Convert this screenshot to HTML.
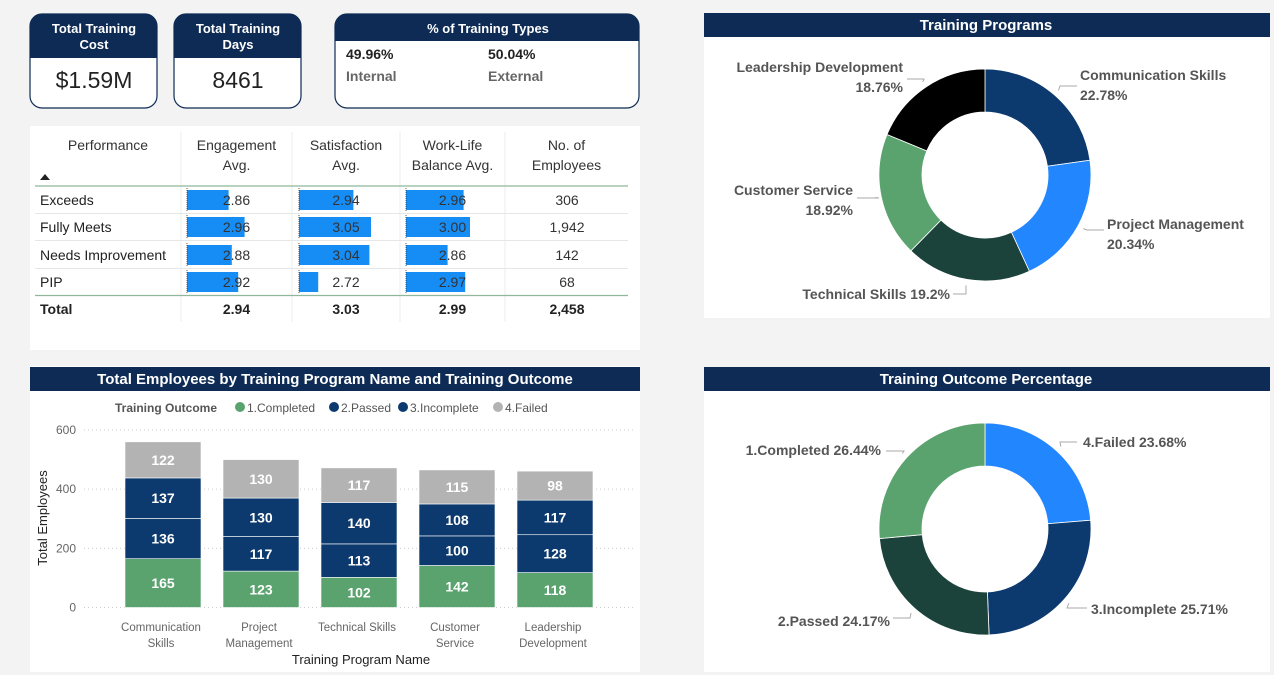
<!DOCTYPE html>
<html><head><meta charset="utf-8">
<style>
html,body{margin:0;padding:0;background:#f3f3f3;}
svg{display:block;font-family:"Liberation Sans",sans-serif;}
</style></head>
<body>
<svg id="dash" width="1274" height="675" viewBox="0 0 1274 675" xmlns="http://www.w3.org/2000/svg">
<rect x="0" y="0" width="1274" height="675" fill="#f3f3f3"/>

<!-- KPI cards -->
<g>
<rect x="30" y="14" width="127" height="94" rx="12" fill="#fff" stroke="#0d2b55" stroke-width="1.2"/>
<path d="M30,58 V26 A12,12 0 0 1 42,14 H145 A12,12 0 0 1 157,26 V58 Z" fill="#0d2b55"/>
<text x="94" y="33" text-anchor="middle" fill="#fff" font-size="13" font-weight="bold">Total Training</text>
<text x="94" y="49" text-anchor="middle" fill="#fff" font-size="13" font-weight="bold">Cost</text>
<text x="94" y="88" text-anchor="middle" fill="#222" font-size="23">$1.59M</text>
</g>
<g>
<rect x="174" y="14" width="127" height="94" rx="12" fill="#fff" stroke="#0d2b55" stroke-width="1.2"/>
<path d="M174,58 V26 A12,12 0 0 1 186,14 H289 A12,12 0 0 1 301,26 V58 Z" fill="#0d2b55"/>
<text x="238" y="33" text-anchor="middle" fill="#fff" font-size="13" font-weight="bold">Total Training</text>
<text x="238" y="49" text-anchor="middle" fill="#fff" font-size="13" font-weight="bold">Days</text>
<text x="238" y="88" text-anchor="middle" fill="#222" font-size="23">8461</text>
</g>
<g>
<rect x="335" y="14" width="304" height="94" rx="12" fill="#fff" stroke="#0d2b55" stroke-width="1.2"/>
<path d="M335,41 V26 A12,12 0 0 1 347,14 H627 A12,12 0 0 1 639,26 V41 Z" fill="#0d2b55"/>
<text x="488" y="33" text-anchor="middle" fill="#fff" font-size="13" font-weight="bold">% of Training Types</text>
<text x="346" y="59" fill="#222" font-size="14" font-weight="bold">49.96%</text>
<text x="346" y="81" fill="#666" font-size="14" font-weight="bold">Internal</text>
<text x="488" y="59" fill="#222" font-size="14" font-weight="bold">50.04%</text>
<text x="488" y="81" fill="#666" font-size="14" font-weight="bold">External</text>
</g>

<!-- Table -->
<g id="table">
<rect x="30" y="126" width="610" height="224" fill="#fff"/>
</g>

<!-- Bar chart panel -->
<g>
<rect x="30" y="366" width="610" height="306" fill="#fff"/>
<rect x="30" y="367" width="610" height="24" fill="#0d2b55"/>
<text x="335" y="384" text-anchor="middle" fill="#fff" font-size="15" font-weight="bold">Total Employees by Training Program Name and Training Outcome</text>
<g id="bars"></g>
</g>

<!-- Donut panels -->
<g>
<rect x="704" y="13" width="566" height="305" fill="#fff"/>
<rect x="704" y="13" width="566" height="24" fill="#0d2b55"/>
<text x="986" y="30" text-anchor="middle" fill="#fff" font-size="15" font-weight="bold">Training Programs</text>
<g id="donut1"></g>
</g>
<g>
<rect x="704" y="367" width="566" height="305" fill="#fff"/>
<rect x="704" y="367" width="566" height="24" fill="#0d2b55"/>
<text x="986" y="384" text-anchor="middle" fill="#fff" font-size="15" font-weight="bold">Training Outcome Percentage</text>
<g id="donut2"></g>
</g>
</svg>

<script>
// ---- table data ----
const perfRows = ["Exceeds","Fully Meets","Needs Improvement","PIP"];
const engagementAvg = [2.86,2.96,2.88,2.92];
const satisfactionAvg = [2.94,3.05,3.04,2.72];
const wlbAvg = [2.96,3.00,2.86,2.97];
const employeeCounts = ["306","1,942","142","68"];
const totalsRow = ["2.94","3.03","2.99","2,458"];

// ---- bar chart data ----
const programs = [["Communication","Skills"],["Project","Management"],["Technical Skills"],["Customer","Service"],["Leadership","Development"]];
const completed = [165,123,102,142,118];
const passed = [136,117,113,100,128];
const incomplete = [137,130,140,108,117];
const failed = [122,130,117,115,98];
const yTicks = [0,200,400,600];

// ---- donut data ----
const progNames = ["Communication Skills","Project Management","Technical Skills","Customer Service","Leadership Development"];
const progPct = [22.78,20.34,19.2,18.92,18.76];
const outcomeNames = ["4.Failed","3.Incomplete","2.Passed","1.Completed"];
const outcomePct = [23.68,25.71,24.17,26.44];

const NS="http://www.w3.org/2000/svg";
function mk(tag,attrs,parent,txt){const e=document.createElementNS(NS,tag);for(const k in attrs)e.setAttribute(k,attrs[k]);if(txt!==undefined)e.textContent=txt;parent.appendChild(e);return e;}

// ---- table ----
const tbl=document.getElementById('table');
const colX=[35,181,292,400,505,628];
const hdr=[["Performance"],["Engagement","Avg."],["Satisfaction","Avg."],["Work-Life","Balance Avg."],["No. of","Employees"]];
hdr.forEach((h,i)=>{
  const cx=(colX[i]+colX[i+1])/2+(i==0?0:0);
  h.forEach((t,j)=>{
    const e=mk('text',{x:i==0?108:cx,y:150+j*20,'text-anchor':'middle','font-size':14,fill:'#333'},tbl,t);
    
    
  });
});
for(let i=1;i<5;i++){const l=mk('line',{x1:colX[i],y1:132,x2:colX[i],y2:322,stroke:'#eee'},tbl);}
const arrow=mk('path',{d:'M40,180 L45,174 L50,180 Z',fill:'#222'},tbl);


mk('line',{x1:35,y1:186,x2:628,y2:186,stroke:'#8fb89a','stroke-width':1.2},tbl);
const rowY=[200,227,255,282];
const cols=[engagementAvg,satisfactionAvg,wlbAvg];
const barStart=[187,299,406];
function barW(v){return Math.max(8,(v-2.6)/0.45*72);}
perfRows.forEach((r,i)=>{
  const y=rowY[i];
  if(i<3) mk('line',{x1:35,y1:y+13.5,x2:628,y2:y+13.5,stroke:'#e6e6e6'},tbl);
  const t=mk('text',{x:40,y:y+5,'font-size':14,fill:'#222'},tbl,r);
  
  
  cols.forEach((c,j)=>{
    const b=mk('rect',{x:barStart[j],y:y-10,width:barW(c[i]),height:20,fill:'#168cf5'},tbl);
    
    
    mk('line',{x1:barStart[j],y1:y-12,x2:barStart[j],y2:y+12,stroke:'#333','stroke-dasharray':'1,1','stroke-width':0.8},tbl);
    mk('text',{x:(colX[j+1]+colX[j+2])/2,y:y+5,'text-anchor':'middle','font-size':14,fill:'#333'},tbl,c[i].toFixed(2));
  });
  mk('text',{x:567,y:y+5,'text-anchor':'middle','font-size':14,fill:'#333'},tbl,employeeCounts[i]);
});
mk('line',{x1:35,y1:295.5,x2:628,y2:295.5,stroke:'#8fb89a','stroke-width':1.2},tbl);
mk('text',{x:40,y:314,'font-size':14,'font-weight':'bold',fill:'#222'},tbl,"Total");
totalsRow.forEach((v,i)=>{mk('text',{x:i<3?(colX[i+1]+colX[i+2])/2:567,y:314,'text-anchor':'middle','font-size':14,'font-weight':'bold',fill:'#222'},tbl,v);});

// ---- bar chart ----
const bg=document.getElementById('bars');
const y0=607.5, yPer=177.5/600;
function yS(v){return y0-v*yPer;}
const band=98, xStart=125, bw=76;
function xS(i){return xStart+i*band;}
yTicks.forEach(t=>{
  mk('line',{x1:84,y1:yS(t),x2:636,y2:yS(t),stroke:'#ccc','stroke-dasharray':'1,3'},bg);
  mk('text',{x:76,y:yS(t)+4,'text-anchor':'end','font-size':12,fill:'#666'},bg,t);
});
const yt=mk('text',{x:47,y:518,'text-anchor':'middle','font-size':13,fill:'#222',transform:'rotate(-90 47 518)'},bg,"Total Employees");


const xt=mk('text',{x:361,y:664,'text-anchor':'middle','font-size':13,fill:'#222'},bg,"Training Program Name");


// legend
const lg=mk('g',{},bg);


mk('text',{x:115,y:412,'font-size':12,'font-weight':'bold',fill:'#555'},lg,"Training Outcome");
const legItems=[["1.Completed","#5aa36e",240],["2.Passed","#0d3a6e",334],["3.Incomplete","#0d3a6e",403],["4.Failed","#b3b3b3",498]];
legItems.forEach(l=>{
  const c=mk('circle',{cx:l[2],cy:407,r:5,fill:l[1]},lg);
  
  
  mk('text',{x:l[2]+7,y:412,'font-size':12,fill:'#555'},lg,l[0]);
});
const series=[[completed,"#5aa36e"],[passed,"#0d3a6e"],[incomplete,"#0d3a6e"],[failed,"#b3b3b3"]];
programs.forEach((p,i)=>{
  let acc=0;
  series.forEach((s,k)=>{
    const v=s[0][i];
    const r=mk('rect',{x:xS(i),y:yS(acc+v),width:bw,height:v*yPer,fill:s[1],stroke:'#fff','stroke-width':0.6},bg);
    
    
    mk('text',{x:xS(i)+bw/2,y:yS(acc+v/2)+5,'text-anchor':'middle','font-size':14,'font-weight':'bold',fill:'#fff'},bg,v);
    acc+=v;
  });
  p.forEach((t,j)=>mk('text',{x:xS(i)+bw/2-2,y:631+j*16,'text-anchor':'middle','font-size':11.5,fill:'#666'},bg,t));
});

// ---- donuts ----
function arc(cx,cy,R,r,a0,a1){
  const p=(a,rad)=>[cx+rad*Math.sin(a),cy-rad*Math.cos(a)];
  const lg=(a1-a0)>Math.PI?1:0;
  const [x1,y1]=p(a0,R),[x2,y2]=p(a1,R),[x3,y3]=p(a1,r),[x4,y4]=p(a0,r);
  return `M${x1},${y1} A${R},${R} 0 ${lg} 1 ${x2},${y2} L${x3},${y3} A${r},${r} 0 ${lg} 0 ${x4},${y4} Z`;
}
function donut(gid,cx,cy,vals,colors,labels,labelPos){
  const g=document.getElementById(gid);
  const tot=vals.reduce((a,b)=>a+b,0);
  let a=0;
  vals.forEach((v,i)=>{
    const a1=a+v/tot*2*Math.PI;
    const s=mk('path',{d:arc(cx,cy,106,63,a,a1),fill:colors[i],stroke:'#fff','stroke-width':0.8},g);
    
    
    const mid=(a+a1)/2;
    const lx=cx+112*Math.sin(mid), ly=cy-112*Math.cos(mid);
    const L=labelPos[i];
    mk('polyline',{points:`${lx},${ly} ${L.lx},${L.ly} ${L.lx2},${L.ly}`,fill:'none',stroke:'#aaa'},g);
    L.lines(labels[i],v).forEach((t,j)=>{
      const e=mk('text',{x:L.tx,y:L.ty+j*20,'text-anchor':L.anchor,'font-size':14,'font-weight':'bold',fill:'#555'},g,t);
      
      
    });
    a=a1;
  });
}
const two=(n,v)=>[n,v+"%"];
const one=(n,v)=>[n+" "+v+"%"];
donut('donut1',985,175,progPct,["#0d3a6e","#2286ff","#1b433c","#5aa36e","#000000"],progNames,[
  {lx:1060,ly:86,lx2:1077,tx:1080,ty:80,anchor:'start',lines:two},
  {lx:1087,ly:230,lx2:1104,tx:1107,ty:229,anchor:'start',lines:two},
  {lx:966,ly:294,lx2:953,tx:950,ty:299,anchor:'end',lines:one},
  {lx:879,ly:198,lx2:857,tx:853,ty:195,anchor:'end',lines:two},
  {lx:924,ly:79,lx2:907,tx:903,ty:72,anchor:'end',lines:two}
]);
donut('donut2',985,529,outcomePct,["#2286ff","#0d3a6e","#1b433c","#5aa36e"],outcomeNames,[
  {lx:1060,ly:442,lx2:1077,tx:1083,ty:447,anchor:'start',lines:one},
  {lx:1067,ly:608,lx2:1087,tx:1091,ty:614,anchor:'start',lines:one},
  {lx:910,ly:618,lx2:893,tx:890,ty:626,anchor:'end',lines:one},
  {lx:904,ly:451,lx2:886,tx:881,ty:455,anchor:'end',lines:one}
]);
</script>
</body></html>
